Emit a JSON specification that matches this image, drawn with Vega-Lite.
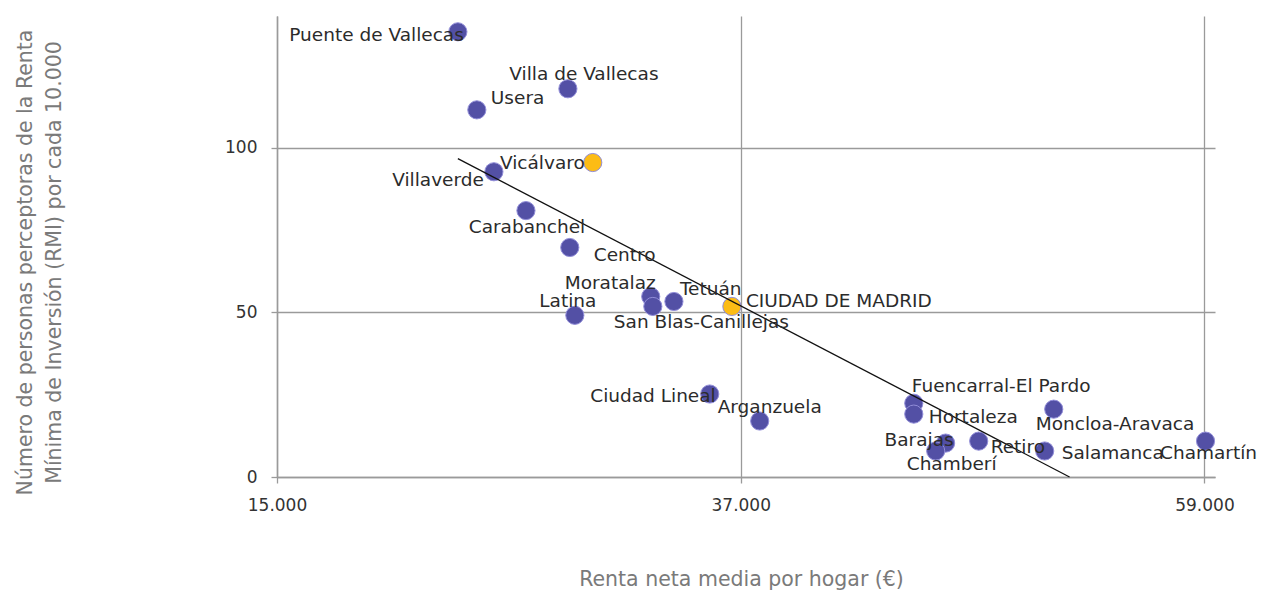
{
  "$schema": "https://vega.github.io/schema/vega-lite/v6.json",
  "autosize": "none",
  "width": 938,
  "height": 461,
  "padding": {"left": 277, "top": 16, "right": 46, "bottom": 113},
  "background": "white",
  "config": {
    "view": {"stroke": null},
    "font": "DejaVu Sans",
    "text": {"font": "DejaVu Sans", "fontSize": 18.5, "color": "#2b2b2b", "baseline": "middle"},
    "axis": {
      "labelFont": "DejaVu Sans", "labelFontSize": 17, "labelColor": "#333333", "labelFlush": false,
      "titleFont": "DejaVu Sans", "titleFontSize": 20.5, "titleColor": "#7a7a7a", "titleFontWeight": "normal",
      "domainColor": "#9a9a9a", "domainWidth": 1.5,
      "gridColor": "#9a9a9a", "gridWidth": 1.3,
      "tickColor": "#9a9a9a", "tickWidth": 1.3, "tickSize": 6
    }
  },
  "datasets": {
    "pts": [
      {"name": "Puente de Vallecas", "renta": 23580, "rmi": 135.2, "grupo": "distrito"},
      {"name": "Villa de Vallecas", "renta": 28800, "rmi": 117.9, "grupo": "distrito"},
      {"name": "Usera", "renta": 24480, "rmi": 111.5, "grupo": "distrito"},
      {"name": "Vicálvaro", "renta": 29980, "rmi": 95.5, "grupo": "destacado"},
      {"name": "Villaverde", "renta": 25290, "rmi": 92.7, "grupo": "distrito"},
      {"name": "Carabanchel", "renta": 26810, "rmi": 80.9, "grupo": "distrito"},
      {"name": "Centro", "renta": 28890, "rmi": 69.7, "grupo": "distrito"},
      {"name": "Moratalaz", "renta": 32730, "rmi": 54.8, "grupo": "distrito"},
      {"name": "San Blas-Canillejas", "renta": 32830, "rmi": 51.8, "grupo": "distrito"},
      {"name": "Tetuán", "renta": 33830, "rmi": 53.3, "grupo": "distrito"},
      {"name": "Latina", "renta": 29130, "rmi": 49.1, "grupo": "distrito"},
      {"name": "CIUDAD DE MADRID", "renta": 36580, "rmi": 51.8, "grupo": "destacado"},
      {"name": "Ciudad Lineal", "renta": 35530, "rmi": 25.2, "grupo": "distrito"},
      {"name": "Arganzuela", "renta": 37900, "rmi": 17.0, "grupo": "distrito"},
      {"name": "Fuencarral-El Pardo", "renta": 45210, "rmi": 22.4, "grupo": "distrito"},
      {"name": "Hortaleza", "renta": 45210, "rmi": 19.1, "grupo": "distrito"},
      {"name": "Moncloa-Aravaca", "renta": 51850, "rmi": 20.6, "grupo": "distrito"},
      {"name": "Barajas", "renta": 46720, "rmi": 10.3, "grupo": "distrito"},
      {"name": "Chamberí", "renta": 46250, "rmi": 7.9, "grupo": "distrito"},
      {"name": "Retiro", "renta": 48290, "rmi": 10.9, "grupo": "distrito"},
      {"name": "Salamanca", "renta": 51420, "rmi": 7.9, "grupo": "distrito"},
      {"name": "Chamartín", "renta": 59050, "rmi": 10.9, "grupo": "distrito"}
    ],
    "trend": [
      {"renta": 23580, "rmi": 96.7},
      {"renta": 52600, "rmi": 0}
    ]
  },
  "layer": [
    {
      "data": {"name": "pts"},
      "mark": {"type": "point", "filled": true, "size": 330, "opacity": 1, "stroke": "#918dd8", "strokeWidth": 1},
      "encoding": {
        "x": {
          "field": "renta", "type": "quantitative",
          "scale": {"domain": [15000, 59500], "nice": false, "zero": false},
          "axis": {
            "values": [15000, 37000, 59000],
            "labelExpr": "replace(format(datum.value, ','), ',', '.')",
            "labelPadding": 14,
            "title": "Renta neta media por hogar (€)",
            "titleX": 464, "titleY": 108, "titleBaseline": "alphabetic", "titleAlign": "center"
          }
        },
        "y": {
          "field": "rmi", "type": "quantitative",
          "scale": {"domain": [0, 140], "nice": false},
          "axis": {
            "values": [0, 50, 100],
            "labelPadding": 14,
            "title": ["Número de personas perceptoras de la Renta", "Mínima de Inversión (RMI) por cada 10.000"],
            "titleLineHeight": 29,
            "titleX": -242, "titleY": 246, "titleAngle": -90, "titleBaseline": "bottom", "titleAlign": "center"
          }
        },
        "color": {
          "field": "grupo", "type": "nominal",
          "scale": {"domain": ["distrito", "destacado"], "range": ["#5350a5", "#fcbc15"]},
          "legend": null
        }
      }
    },
    {
      "data": {"name": "trend"},
      "mark": {"type": "line", "color": "#111111", "strokeWidth": 1.3},
      "encoding": {
        "x": {"field": "renta", "type": "quantitative"},
        "y": {"field": "rmi", "type": "quantitative"}
      }
    },
    {
      "data": {"name": "pts"},
      "encoding": {
        "x": {"field": "renta", "type": "quantitative"},
        "y": {"field": "rmi", "type": "quantitative"},
        "text": {"field": "name", "type": "nominal"}
      },
      "layer": [
        {"transform": [{"filter": {"field": "name", "equal": "Puente de Vallecas"}}], "mark": {"type": "text", "align": "right", "dx": 6, "dy": 3}},
        {"transform": [{"filter": {"field": "name", "equal": "Villa de Vallecas"}}], "mark": {"type": "text", "align": "center", "dx": 16, "dy": -15}},
        {"transform": [{"filter": {"field": "name", "equal": "Usera"}}], "mark": {"type": "text", "align": "left", "dx": 14, "dy": -12}},
        {"transform": [{"filter": {"field": "name", "equal": "Vicálvaro"}}], "mark": {"type": "text", "align": "right", "dx": -8, "dy": 0}},
        {"transform": [{"filter": {"field": "name", "equal": "Villaverde"}}], "mark": {"type": "text", "align": "right", "dx": -10, "dy": 8}},
        {"transform": [{"filter": {"field": "name", "equal": "Carabanchel"}}], "mark": {"type": "text", "align": "center", "dx": 1, "dy": 16}},
        {"transform": [{"filter": {"field": "name", "equal": "Centro"}}], "mark": {"type": "text", "align": "left", "dx": 24, "dy": 8}},
        {"transform": [{"filter": {"field": "name", "equal": "Moratalaz"}}], "mark": {"type": "text", "align": "right", "dx": 5, "dy": -14}},
        {"transform": [{"filter": {"field": "name", "equal": "Tetuán"}}], "mark": {"type": "text", "align": "left", "dx": 6, "dy": -12}},
        {"transform": [{"filter": {"field": "name", "equal": "Latina"}}], "mark": {"type": "text", "align": "center", "dx": -7, "dy": -14}},
        {"transform": [{"filter": {"field": "name", "equal": "San Blas-Canillejas"}}], "mark": {"type": "text", "align": "left", "dx": -39, "dy": 16}},
        {"transform": [{"filter": {"field": "name", "equal": "CIUDAD DE MADRID"}}], "mark": {"type": "text", "align": "left", "dx": 14, "dy": -5}},
        {"transform": [{"filter": {"field": "name", "equal": "Ciudad Lineal"}}], "mark": {"type": "text", "align": "right", "dx": 6, "dy": 2}},
        {"transform": [{"filter": {"field": "name", "equal": "Arganzuela"}}], "mark": {"type": "text", "align": "center", "dx": 10, "dy": -14}},
        {"transform": [{"filter": {"field": "name", "equal": "Fuencarral-El Pardo"}}], "mark": {"type": "text", "align": "left", "dx": -2, "dy": -17}},
        {"transform": [{"filter": {"field": "name", "equal": "Hortaleza"}}], "mark": {"type": "text", "align": "left", "dx": 15, "dy": 3}},
        {"transform": [{"filter": {"field": "name", "equal": "Moncloa-Aravaca"}}], "mark": {"type": "text", "align": "left", "dx": -18, "dy": 15}},
        {"transform": [{"filter": {"field": "name", "equal": "Barajas"}}], "mark": {"type": "text", "align": "right", "dx": 8, "dy": -3}},
        {"transform": [{"filter": {"field": "name", "equal": "Chamberí"}}], "mark": {"type": "text", "align": "left", "dx": -29, "dy": 13}},
        {"transform": [{"filter": {"field": "name", "equal": "Retiro"}}], "mark": {"type": "text", "align": "left", "dx": 12, "dy": 6}},
        {"transform": [{"filter": {"field": "name", "equal": "Salamanca"}}], "mark": {"type": "text", "align": "left", "dx": 17, "dy": 2}},
        {"transform": [{"filter": {"field": "name", "equal": "Chamartín"}}], "mark": {"type": "text", "align": "center", "dx": 3, "dy": 12}}
      ]
    }
  ]
}
